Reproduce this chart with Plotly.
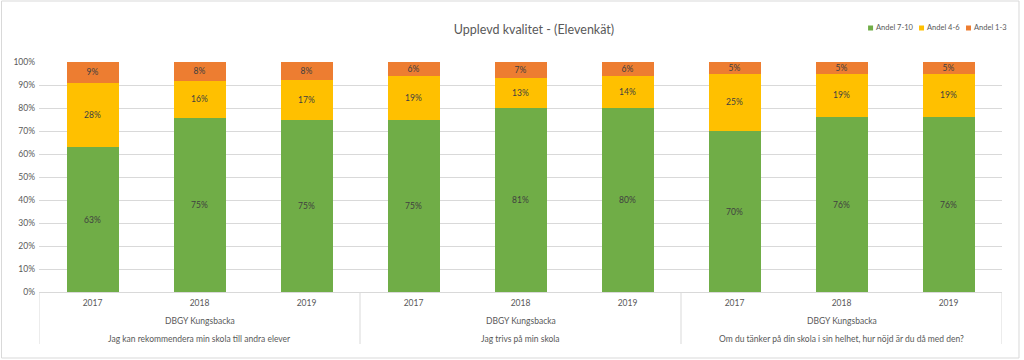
import plotly.graph_objects as go

years = ["2017", "2018", "2019", "2017", "2018", "2019", "2017", "2018", "2019"]
school = "DBGY Kungsbacka"
questions = [
    "Jag kan rekommendera min skola till andra elever",
    "Jag trivs på min skola",
    "Om du tänker på din skola i sin helhet, hur nöjd är du då med den?",
]
andel_7_10 = [63, 75, 75, 75, 81, 80, 70, 76, 76]
andel_4_6 = [28, 16, 17, 19, 13, 14, 25, 19, 19]
andel_1_3 = [9, 8, 8, 6, 7, 6, 5, 5, 5]

series = [
    ("Andel 7-10", andel_7_10, "#70AD47"),
    ("Andel 4-6", andel_4_6, "#FFC000"),
    ("Andel 1-3", andel_1_3, "#ED7D31"),
]

FONT = "Lato"
GRAY = "#595959"
FS = 8.5
xs = list(range(len(years)))

fig = go.Figure()
for name, vals, col in series:
    fig.add_trace(go.Bar(
        x=xs, y=vals, name=name, marker_color=col, marker_line_width=0,
        text=[f"{v}%" for v in vals], textposition="inside",
        insidetextanchor="middle", constraintext="none",
        textfont=dict(family=FONT, size=FS, color="#404040"),
        hoverinfo="skip", showlegend=False,
    ))

L, R, T, B = 38.5, 22, 62, 68
W, H = 1024, 360
pw, ph = W - L - R, H - T - B

def px_x(p):
    return (p - L) / pw

def px_y(p):
    return (H - B - p) / ph

annotations = []
shapes = []
n_per = 3
for gi, q in enumerate(questions):
    cx = gi * n_per + (n_per - 1) / 2
    annotations.append(dict(x=cx, y=px_y(321), xref="x", yref="paper", text=school,
                            showarrow=False, font=dict(family=FONT, size=FS, color=GRAY),
                            yanchor="middle"))
    annotations.append(dict(x=cx, y=px_y(339), xref="x", yref="paper", text=q,
                            showarrow=False, font=dict(family=FONT, size=FS, color=GRAY),
                            yanchor="middle"))

for gi in range(len(questions) + 1):
    sx = gi * n_per - 0.5
    shapes.append(dict(type="line", xref="x", yref="paper", x0=sx, x1=sx,
                       y0=0, y1=px_y(344), line=dict(color="#d9d9d9", width=1)))
shapes.append(dict(type="rect", xref="paper", yref="paper",
                   x0=px_x(1), x1=px_x(1019), y0=px_y(358), y1=px_y(1),
                   line=dict(color="#d9d9d9", width=1), layer="below"))

# custom compact legend (Excel style)
leg_x = [868, 919, 966]
leg_y = 28
for (name, vals, col), lx in zip(series, leg_x):
    shapes.append(dict(type="rect", xref="paper", yref="paper",
                       x0=px_x(lx), x1=px_x(lx + 5), y0=px_y(leg_y + 2.5), y1=px_y(leg_y - 2.5),
                       fillcolor=col, line=dict(width=0)))
    annotations.append(dict(x=px_x(lx + 5.5), y=px_y(leg_y), xref="paper", yref="paper",
                            text=name, showarrow=False, xanchor="left", yanchor="middle",
                            font=dict(family=FONT, size=7.5, color=GRAY)))

fig.update_layout(
    width=W, height=H,
    barmode="stack", barnorm="percent", bargap=0.514,
    margin=dict(l=L, r=R, t=T, b=B, autoexpand=False),
    paper_bgcolor="white", plot_bgcolor="white",
    font=dict(family=FONT, size=FS, color=GRAY),
    showlegend=False,
    title=dict(text="Upplevd kvalitet - (Elevenkät)", x=534 / W, xref="container", xanchor="center",
               y=1 - 30 / H, yanchor="middle", font=dict(family=FONT, size=12.5, color=GRAY)),
    xaxis=dict(range=[-0.5, len(years) - 0.5], tickvals=xs, ticktext=years,
               showgrid=False, zeroline=False, showline=True, linecolor="#d9d9d9",
               tickfont=dict(family=FONT, size=FS, color=GRAY), ticks="",
               ticklabelstandoff=3),
    yaxis=dict(range=[0, 100], dtick=10, ticksuffix="%", showgrid=True,
               gridcolor="#d9d9d9", zeroline=False, showline=False,
               tickfont=dict(family=FONT, size=FS, color=GRAY), ticks="",
               ticklabelstandoff=3),
    annotations=annotations, shapes=shapes,
)

fig.write_html("out.html", config={"displayModeBar": False},
               post_script="document.body.style.margin='0';")
